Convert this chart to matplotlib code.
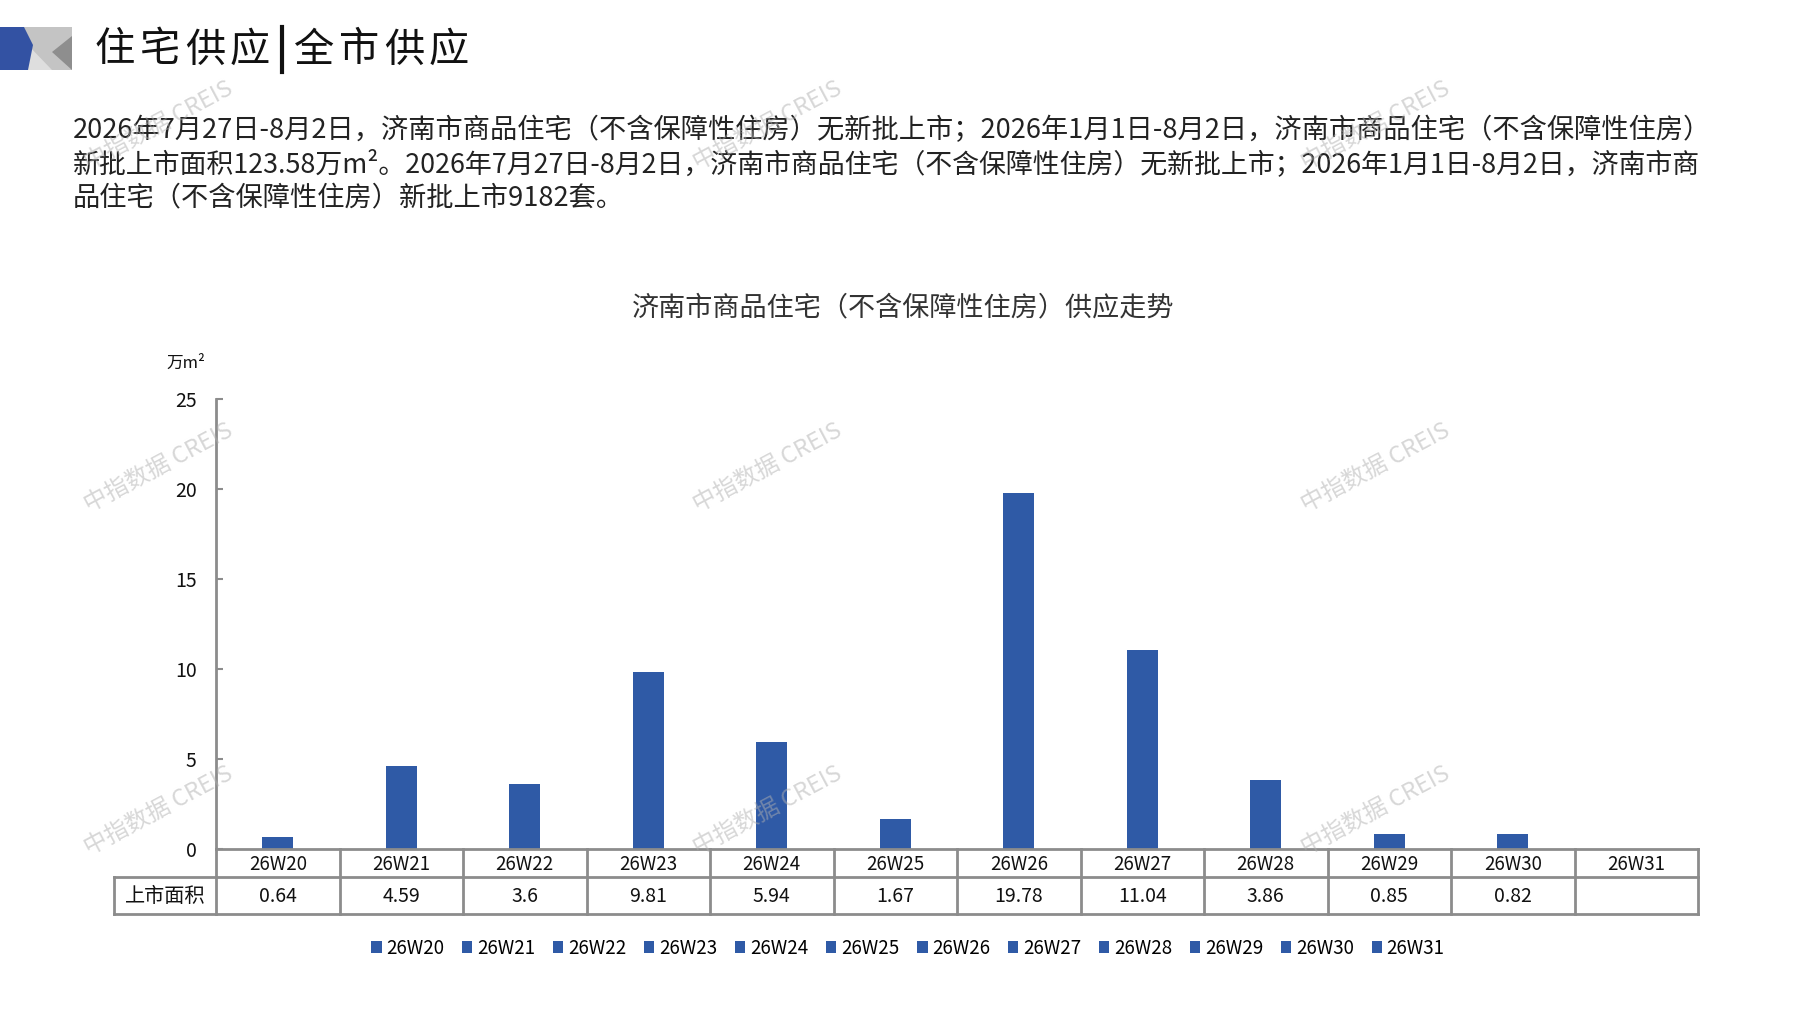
import numpy as np
import matplotlib
matplotlib.use("Agg")
import matplotlib.pyplot as plt
import matplotlib.transforms as mtransforms
from matplotlib.patches import Polygon, Patch

plt.rcParams['font.family'] = ['Noto Sans CJK SC', 'DejaVu Sans']

# data
weeks = ['26W20', '26W21', '26W22', '26W23', '26W24', '26W25',
         '26W26', '26W27', '26W28', '26W29', '26W30', '26W31']
area = [0.64, 4.59, 3.6, 9.81, 5.94, 1.67, 19.78, 11.04, 3.86, 0.85, 0.82, None]
row_label = '上市面积'
unit = '万m²'
yticks = [0, 5, 10, 15, 20, 25]

page_title = '住宅供应|全市供应'
chart_title = '济南市商品住宅（不含保障性住房）供应走势'
para_lines = [
    '2026年7月27日-8月2日，济南市商品住宅（不含保障性住房）无新批上市；2026年1月1日-8月2日，济南市商品住宅（不含保障性住房）',
    '新批上市面积123.58万m²。2026年7月27日-8月2日，济南市商品住宅（不含保障性住房）无新批上市；2026年1月1日-8月2日，济南市商',
    '品住宅（不含保障性住房）新批上市9182套。',
]
para_sizes = [19.6, 19.4, 19.6]
watermark = '中指数据 CREIS'

BLUE = '#2F5AA6'
GRID = '#8C8C8C'
W, H = 1797, 1010


def main():
    fig = plt.figure(figsize=(W / 100, H / 100), dpi=100)
    fig.patch.set_facecolor('white')
    # pixel transform (x right, y down)
    px = mtransforms.Affine2D().scale(1 / W, -1 / H).translate(0, 1) + fig.transFigure

    # header logo
    fig.patches.append(Polygon([(23, 27), (72, 27), (72, 70), (27, 70)], closed=True,
                               facecolor='#c4c4c4', edgecolor='none', transform=px))
    fig.patches.append(Polygon([(27, 44), (52, 70), (27, 70)], closed=True,
                               facecolor='#dedede', edgecolor='none', transform=px))
    fig.patches.append(Polygon([(72, 36), (72, 70), (52, 52)], closed=True,
                               facecolor='#8e8e8e', edgecolor='none', transform=px))
    fig.patches.append(Polygon([(0, 27), (24, 27), (33, 45), (28, 70), (0, 70)], closed=True,
                               facecolor='#3352a3', edgecolor='none', transform=px))
    # title with wide letter pitch
    pitch = 45
    xcur = 95
    for ch in page_title:
        if ch == '|':
            xcur -= 3
            fig.lines.append(plt.Line2D([xcur + 10, xcur + 10], [27, 72], transform=px,
                                        color='#111111', lw=3))
            xcur += 22
            continue
        fig.text(xcur, 50, ch, transform=px, fontsize=29, va='center', ha='left',
                 color='#111111')
        xcur += pitch

    # paragraph
    for i, line in enumerate(para_lines):
        fig.text(73, 130 + i * 34, line, transform=px, fontsize=para_sizes[i],
                 va='center', ha='left', color='#222222')

    # chart title
    fig.text(903, 308, chart_title, transform=px, fontsize=19.5, va='center',
             ha='center', color='#333333')

    # axes
    left, right, top, bottom = 216, 1698, 399, 849
    ax = fig.add_axes([left / W, 1 - bottom / H, (right - left) / W, (bottom - top) / H])
    x = np.arange(len(weeks))
    vals = np.array([v if v is not None else 0 for v in area], dtype=float)
    ax.bar(x, vals, width=0.25, color=BLUE, zorder=2)
    ax.set_xlim(-0.5, len(weeks) - 0.5)
    ax.set_ylim(0, 25)
    ax.set_yticks(yticks)
    ax.tick_params(axis='y', direction='in', length=5, width=1.5, color=GRID,
                   labelsize=14, pad=14, labelcolor='#111111')
    ax.tick_params(axis='x', bottom=False, labelbottom=False)
    for s in ['top', 'right']:
        ax.spines[s].set_visible(False)
    ax.spines['left'].set_color(GRID)
    ax.spines['left'].set_linewidth(2)
    ax.spines['bottom'].set_color(GRID)
    ax.spines['bottom'].set_linewidth(2)
    ax.patch.set_alpha(0)

    fig.text(186, 363, unit, transform=px, fontsize=12, va='center', ha='center',
             color='#111111')

    # data table under the axis
    bt = mtransforms.blended_transform_factory(ax.transData, px)
    r1, r2, r3 = 849, 877, 914
    lw = 2
    for i in range(len(weeks) + 1):
        ax.plot([i - 0.5, i - 0.5], [r1, r3], transform=bt, color=GRID, lw=lw,
                clip_on=False, solid_capstyle='projecting')
    for yy in [r2, r3]:
        fig.lines.append(plt.Line2D([114, left], [yy, yy], transform=px, color=GRID, lw=lw))
        ax.plot([-0.5, len(weeks) - 0.5], [yy, yy], transform=bt, color=GRID, lw=lw,
                clip_on=False)
    fig.lines.append(plt.Line2D([114, 114], [r2, r3], transform=px, color=GRID, lw=lw))
    for i, w in enumerate(weeks):
        ax.text(i, (r1 + r2) / 2 + 1, w, transform=bt, ha='center', va='center',
                fontsize=13.5, color='#111111')
        if area[i] is not None:
            ax.text(i, (r2 + r3) / 2 + 1, f'{area[i]:g}', transform=bt, ha='center',
                    va='center', fontsize=14, color='#111111')
    fig.text((114 + left) / 2, (r2 + r3) / 2 + 1, row_label, transform=px, ha='center',
             va='center', fontsize=14.5, color='#111111')

    # legend
    handles = [Patch(facecolor=BLUE, edgecolor='none', label=w) for w in weeks]
    fig.legend(handles=handles, ncol=len(weeks), loc='center',
               bbox_to_anchor=(908 / W, 1 - 948 / H), frameon=False, fontsize=13.5,
               handlelength=0.55, handleheight=0.55, handletextpad=0.25,
               columnspacing=0.95)

    # watermarks
    for wx in [159, 768, 1376]:
        for wy in [126, 468, 811]:
            fig.text(wx, wy, watermark, transform=px, fontsize=17, rotation=28,
                     ha='center', va='center', color='#b0b0b0', alpha=0.5,
                     zorder=10)

    fig.savefig('out.png', dpi=100)


if __name__ == '__main__':
    main()
